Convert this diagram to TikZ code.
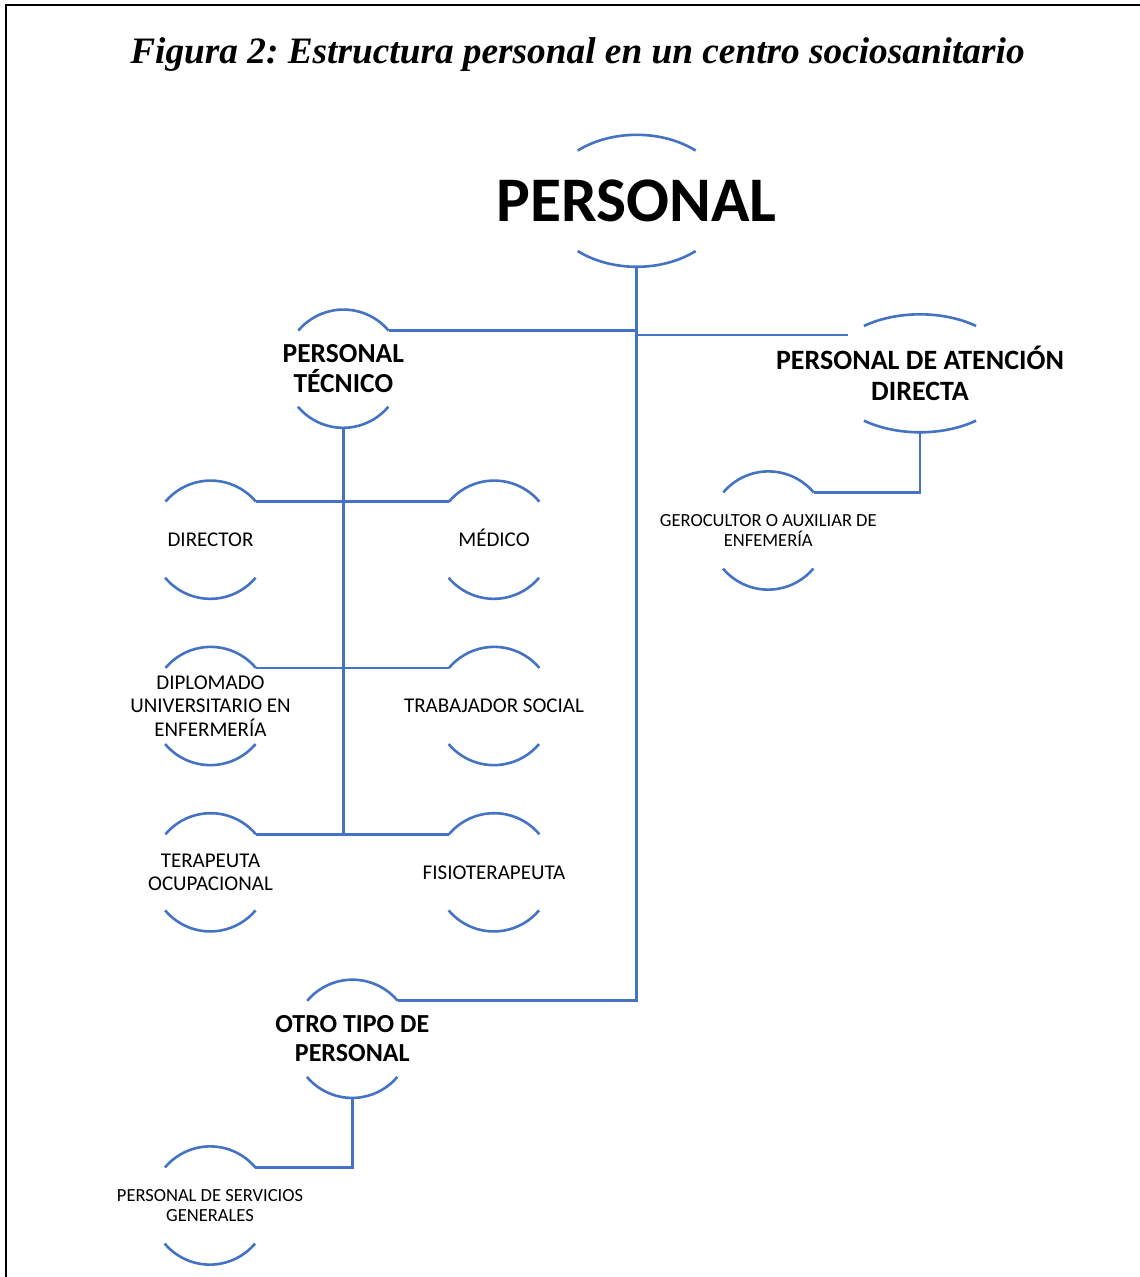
\documentclass[tikz,border=0pt]{standalone}
\usepackage{fontspec}
\setmainfont{Carlito}
\newfontfamily\titlefont{Liberation Serif}
\usepackage{tikz}
\usetikzlibrary{positioning,shapes}
\definecolor{lineblue}{HTML}{4472C4}
\frenchspacing

\tikzstyle{link} = [draw=lineblue, line width=2.6pt]
\tikzstyle{ring} = [circle, minimum size=118pt, inner sep=0pt]
\tikzstyle{oval} = [ellipse, inner sep=0pt]
\tikzstyle{toptext} = [font=\fontsize{63.5}{70}\selectfont\bfseries]
\tikzstyle{headtext} = [align=center, font=\fontsize{28}{31}\selectfont\bfseries]
\tikzstyle{midtext} = [align=center, font=\fontsize{21}{23.5}\selectfont]
\tikzstyle{smalltext} = [align=center, font=\fontsize{18.5}{20.5}\selectfont]

\begin{document}
\begin{tikzpicture}[x=1pt,y=-1pt,on grid]
  \useasboundingbox (0,0) rectangle (1140,1277);
  \draw[line width=2pt] (1140,5) -- (6,5) -- (6,1277);

  \node[font=\titlefont\fontsize{37.3}{45}\selectfont\bfseries\itshape, anchor=base]
       (title) at (577.5,63.3) {Figura 2: Estructura personal en un centro sociosanitario};

  \node[oval, minimum width=182pt, minimum height=132pt,
        label={[toptext]center:PERSONAL}] (top) at (636.7,200.8) {};
  \node[ring, label={[headtext, font=\fontsize{27.5}{30}\selectfont\bfseries]center:PERSONAL\\TÉCNICO}]
       (tec) at (343.3,368.7) {};
  \node[oval, minimum width=188pt, minimum height=118pt,
        label={[headtext]center:PERSONAL DE ATENCIÓN\\DIRECTA}] (ate) at (920,373.3) {};

  \node[ring, label={[midtext]center:DIRECTOR}] (dir) at (210.5,539.7) {};
  \node[ring, label={[midtext, yshift=1.5pt]center:MÉDICO}] (med) [right=283.5pt of dir] {};
  \node[ring, label={[midtext]center:DIPLOMADO\\UNIVERSITARIO EN\\ENFERMERÍA}] (dip) [below=166.3pt of dir] {};
  \node[ring, label={[midtext]center:TRABAJADOR SOCIAL}] (tra) [right=283.5pt of dip] {};
  \node[ring, label={[midtext]center:TERAPEUTA\\OCUPACIONAL}] (ter) [below=166.3pt of dip] {};
  \node[ring, label={[midtext]center:FISIOTERAPEUTA}] (fis) [right=283.5pt of ter] {};

  \node[ring, label={[smalltext]center:GEROCULTOR O AUXILIAR DE\\ENFEMERÍA}] (ger) at (768.3,530.5) {};
  \node[ring, label={[headtext, font=\fontsize{26}{29}\selectfont\bfseries]center:OTRO TIPO DE\\PERSONAL}]
       (otr) at (352.3,1038.8) {};
  \node[ring, label={[smalltext]center:PERSONAL DE SERVICIOS\\GENERALES}] (ser) at (210,1205.5) {};

  % open rings
  \foreach \n in {tec,dir,med,dip,tra,ter,fis,ger,otr,ser}
    \draw[link] (\n.40) arc[start angle=40, end angle=140, radius=59pt]
                (\n.220) arc[start angle=220, end angle=320, radius=59pt];
  \draw[link] ([shift={(49.6:91pt and 66pt)}]top.center) arc[start angle=49.6, end angle=130.4, x radius=91pt, y radius=66pt]
              ([shift={(229.6:91pt and 66pt)}]top.center) arc[start angle=229.6, end angle=310.4, x radius=91pt, y radius=66pt];
  \draw[link] ([shift={(53.4:94pt and 59pt)}]ate.center) arc[start angle=53.4, end angle=126.6, x radius=94pt, y radius=59pt]
              ([shift={(233.4:94pt and 59pt)}]ate.center) arc[start angle=233.4, end angle=306.6, x radius=94pt, y radius=59pt];

  % connectors
  \draw[link] (tec.40) -- (tec.40 -| top.south);
  \draw[link] (top.south) -- (otr.40 -| top.south) -- (otr.40);
  \draw[link] (ate.152.6) -- (ate.152.6 -| top.south);
  \draw[link] (tec.south) -- (ter.40 -| tec.south);
  \draw[link] (dir.40) -- (med.140);
  \draw[link] (dip.40) -- (tra.140);
  \draw[link] (ter.40) -- (fis.140);
  \draw[link] (ate.south) |- (ger.40);
  \draw[link] (otr.south) |- (ser.40);
\end{tikzpicture}
\end{document}
